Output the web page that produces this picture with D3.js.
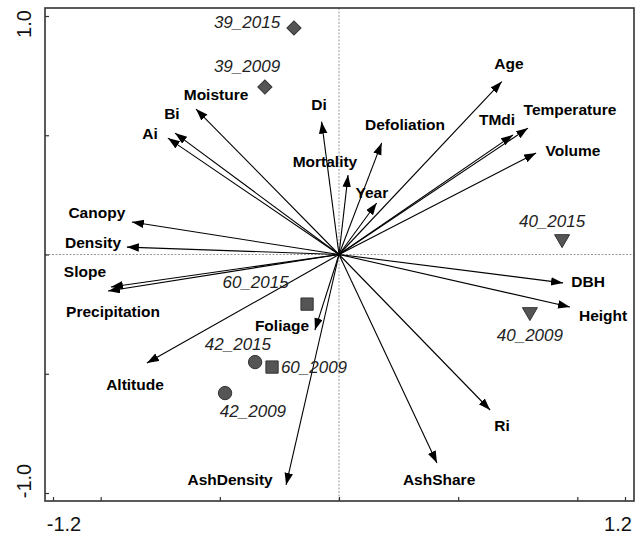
<!DOCTYPE html>
<html><head><meta charset="utf-8">
<script src="https://cdn.jsdelivr.net/npm/d3@7"></script>
<style>body{margin:0;background:#fff}svg{display:block}</style>
</head><body>
<svg id="c" width="643" height="536"></svg>
<script>
// Environmental / response variable arrows (biplot scores)
const varNames = ["Age","Temperature","TMdi","Volume","Defoliation","Di","Mortality","Year","Moisture","Bi","Ai","Canopy","Density","Slope","Precipitation","Altitude","Foliage","AshDensity","AshShare","Ri","DBH","Height"];
const varX = [0.683,0.793,0.730,0.827,0.179,-0.073,0.038,0.158,-0.600,-0.688,-0.718,-0.869,-0.890,-0.957,-0.969,-0.806,-0.101,-0.222,0.411,0.634,0.940,0.969];
const varY = [0.725,0.530,0.501,0.426,0.468,0.557,0.333,0.216,0.610,0.509,0.488,0.136,0.031,-0.136,-0.153,-0.455,-0.317,-0.966,-0.874,-0.652,-0.119,-0.220];
// label anchor in data units
const varLabX = [0.713,0.969,0.663,0.982,0.277,-0.084,-0.059,0.138,-0.516,-0.701,-0.793,-1.016,-1.032,-1.066,-0.948,-0.856,-0.239,-0.457,0.420,0.684,1.045,1.108];
const varLabY = [0.799,0.606,0.564,0.438,0.543,0.627,0.392,0.258,0.669,0.593,0.509,0.178,0.052,-0.073,-0.241,-0.543,-0.296,-0.945,-0.945,-0.719,-0.115,-0.254];

// Site scores
const siteNames = ["39_2015","39_2009","40_2015","40_2009","60_2015","60_2009","42_2015","42_2009"];
const siteGroup = ["39","39","40","40","60","60","42","42"];
const siteX = [-0.189,-0.311,0.936,0.801,-0.134,-0.281,-0.352,-0.478];
const siteY = [0.950,0.702,0.065,-0.241,-0.208,-0.472,-0.451,-0.581];
const siteLabX = [-0.386,-0.386,0.894,0.801,-0.350,-0.105,-0.424,-0.361];
const siteLabY = [0.971,0.790,0.140,-0.338,-0.119,-0.472,-0.379,-0.660];

// Axis ticks
const xTicks = [-1.2,-1.0,-0.5,0,0.5,1.0,1.2];
const yTicks = [-1.0,-0.5,0,0.5,1.0];
const xTickLabels = ["-1.2","1.2"];
const yTickLabels = ["-1.0","1.0"];

const svg = d3.select("#c");
const x = d3.scaleLinear().domain([-1.2,1.2]).range([53,625]);
const y = d3.scaleLinear().domain([-1.0,1.0]).range([493,16]);
const L = 45, R = 634, T = 8, B = 501;

// zero lines
svg.append("line").attr("x1",x(0)).attr("x2",x(0)).attr("y1",T).attr("y2",B)
  .attr("stroke","#999").attr("stroke-width",1).attr("stroke-dasharray","2,1.5");
svg.append("line").attr("x1",L).attr("x2",R).attr("y1",y(0)).attr("y2",y(0))
  .attr("stroke","#999").attr("stroke-width",1).attr("stroke-dasharray","2,1.5");

// axes (inward ticks)
const gx = svg.append("g").attr("transform",`translate(0,${B})`)
  .call(d3.axisBottom(x).tickValues(xTicks).tickSize(-4).tickFormat(""));
const gy = svg.append("g").attr("transform",`translate(${L},0)`)
  .call(d3.axisLeft(y).tickValues(yTicks).tickSize(-4).tickFormat(""));
[gx,gy].forEach(g=>{g.select(".domain").remove();g.selectAll("line").attr("stroke","#333").attr("stroke-width",1.2);});

// tick labels
svg.selectAll(".xl").data(xTickLabels).join("text")
  .attr("x",(d)=>x(+d) + (+d<0?11:-7)).attr("y",524)
  .attr("text-anchor","middle").attr("dominant-baseline","central")
  .attr("font-family","Liberation Sans, Arial, sans-serif").attr("font-size",20).attr("fill","#111")
  .text(d=>d);
svg.selectAll(".yl").data(yTickLabels).join("text")
  .attr("transform",d=>`translate(24,${y(+d) + (+d<0?-12:8)}) rotate(-90)`)
  .attr("text-anchor","middle").attr("dominant-baseline","central")
  .attr("font-family","Liberation Sans, Arial, sans-serif").attr("font-size",20).attr("fill","#111")
  .text(d=>d);

// frame
svg.append("rect").attr("x",L).attr("y",T).attr("width",R-L).attr("height",B-T)
  .attr("fill","none").attr("stroke","#333").attr("stroke-width",1.6);

// arrows
svg.append("defs").append("marker").attr("id","ah")
  .attr("markerUnits","userSpaceOnUse").attr("markerWidth",13).attr("markerHeight",10)
  .attr("viewBox","0 0 13 10").attr("refX",12).attr("refY",4.25).attr("orient","auto")
  .append("path").attr("d","M0,0 L12,4.25 L0,8.5 Z").attr("fill","#000");

const vars = varNames.map((n,i)=>({n,x:varX[i],y:varY[i],lx:varLabX[i],ly:varLabY[i]}));
svg.selectAll(".arr").data(vars).join("line")
  .attr("x1",x(0)).attr("y1",y(0)).attr("x2",d=>x(d.x)).attr("y2",d=>y(d.y))
  .attr("stroke","#000").attr("stroke-width",1.1).attr("marker-end","url(#ah)");
svg.selectAll(".vl").data(vars).join("text")
  .attr("x",d=>x(d.lx)).attr("y",d=>y(d.ly))
  .attr("text-anchor","middle").attr("dominant-baseline","central")
  .attr("font-family","Liberation Sans, Arial, sans-serif").attr("font-weight","bold")
  .attr("font-size",15.5).attr("fill","#000").text(d=>d.n);

// sites
const sym = {"39":d3.symbolSquare,"40":d3.symbolTriangle,"60":d3.symbolSquare,"42":d3.symbolCircle};
const symSize = {"39":100,"40":97,"60":150,"42":140};
const symRot = {"39":45,"40":180,"60":0,"42":0};
const sites = siteNames.map((n,i)=>({n,g:siteGroup[i],x:siteX[i],y:siteY[i],lx:siteLabX[i],ly:siteLabY[i]}));
svg.selectAll(".pt").data(sites).join("path")
  .attr("d",d=>d3.symbol(sym[d.g],symSize[d.g])())
  .attr("transform",d=>`translate(${x(d.x)},${y(d.y)}) rotate(${symRot[d.g]})`)
  .attr("fill","#555").attr("stroke","#333").attr("stroke-width",1);
svg.selectAll(".sl").data(sites).join("text")
  .attr("x",d=>x(d.lx)).attr("y",d=>y(d.ly))
  .attr("text-anchor","middle").attr("dominant-baseline","central")
  .attr("font-family","Liberation Sans, Arial, sans-serif").attr("font-style","italic")
  .attr("font-size",17).attr("fill","#222").text(d=>d.n);
</script>
</body></html>
